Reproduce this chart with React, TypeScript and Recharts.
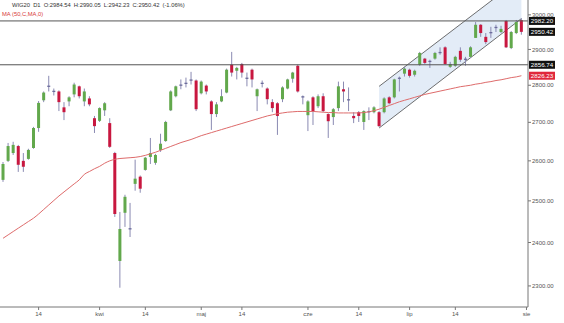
import React from "react";
import { ComposedChart, Bar, Line, Area, XAxis, YAxis, ReferenceLine } from "recharts";

// WIG20 daily candles, oldest first
const opens = [
  2552, 2600, 2620, 2638, 2600, 2605, 2633, 2685, 2759, 2799,
  2785, 2783, 2740, 2756, 2775, 2797, 2756, 2764, 2711, 2704,
  2732, 2698, 2620, 2357, 2471, 2432, 2542, 2560, 2577, 2610,
  2595, 2628, 2651, 2732, 2770, 2799, 2805, 2813, 2813, 2778,
  2799, 2756, 2722, 2756, 2780, 2857, 2840, 2859, 2821, 2843,
  2770, 2805, 2791, 2754, 2751, 2762, 2791, 2818, 2854, 2770,
  2719, 2767, 2743, 2770, 2722, 2714, 2738, 2789, 2762, 2717,
  2727, 2701, 2730, 2727, 2727, 2727, 2767, 2767, 2818, 2832,
  2843, 2829, 2857, 2874, 2868, 2874, 2890, 2906, 2851, 2854,
  2896, 2874, 2879, 2933, 2971, 2936, 2950, 2962, 2950, 2982,
  2904, 2947, 2984.54,
];
const highs = [
  2597, 2646, 2649, 2641, 2620, 2631, 2688, 2757, 2783, 2826,
  2791, 2786, 2754, 2770, 2807, 2799, 2791, 2770, 2717, 2740,
  2754, 2711, 2623, 2473, 2515, 2495, 2603, 2563, 2610, 2659,
  2618, 2670, 2704, 2786, 2799, 2816, 2821, 2837, 2816, 2813,
  2802, 2759, 2754, 2789, 2846, 2893, 2851, 2862, 2835, 2846,
  2791, 2813, 2794, 2762, 2754, 2797, 2818, 2837, 2857, 2772,
  2759, 2770, 2775, 2778, 2724, 2738, 2810, 2810, 2794, 2727,
  2730, 2732, 2740, 2743, 2730, 2767, 2770, 2818, 2824, 2851,
  2846, 2843, 2893, 2876, 2871, 2893, 2906, 2909, 2865, 2882,
  2906, 2879, 2909, 2979, 2973, 2947, 2965, 2971, 2968, 2985,
  2953, 2985, 2990.05,
];
const lows = [
  2547, 2597, 2615, 2572, 2572, 2603, 2631, 2675, 2754, 2783,
  2772, 2730, 2706, 2743, 2767, 2764, 2743, 2743, 2672, 2701,
  2717, 2633, 2461, 2296, 2437, 2413, 2525, 2520, 2575, 2592,
  2590, 2623, 2649, 2730, 2767, 2789, 2794, 2802, 2730, 2775,
  2775, 2680, 2714, 2754, 2778, 2824, 2816, 2821, 2797, 2794,
  2730, 2794, 2748, 2727, 2667, 2754, 2789, 2807, 2780, 2748,
  2677, 2693, 2738, 2727, 2659, 2693, 2730, 2754, 2730, 2698,
  2701, 2680, 2706, 2724, 2688, 2724, 2748, 2764, 2783, 2824,
  2821, 2824, 2854, 2859, 2848, 2871, 2885, 2857, 2848, 2851,
  2865, 2854, 2876, 2933, 2936, 2915, 2933, 2950, 2947, 2904,
  2901, 2944, 2942.23,
];
const closes = [
  2592, 2638, 2641, 2590, 2585, 2628, 2685, 2752, 2780, 2796,
  2783, 2754, 2727, 2767, 2802, 2770, 2783, 2748, 2690, 2738,
  2751, 2636, 2468, 2432, 2510, 2434, 2555, 2530, 2608, 2620,
  2615, 2644, 2701, 2783, 2797, 2802, 2807, 2816, 2735, 2810,
  2783, 2722, 2748, 2770, 2843, 2835, 2848, 2835, 2818, 2816,
  2789, 2807, 2762, 2738, 2717, 2794, 2816, 2835, 2783, 2767,
  2756, 2730, 2770, 2730, 2703, 2735, 2797, 2783, 2759, 2711,
  2717, 2730, 2727, 2740, 2690, 2764, 2751, 2816, 2821, 2846,
  2826, 2840, 2890, 2862, 2865, 2890, 2893, 2859, 2859, 2879,
  2871, 2871, 2906, 2971, 2947, 2921, 2947, 2965, 2959, 2906,
  2950, 2979, 2950.42,
];
// MA(50) on close
const ma50 = [
  2410, 2418, 2426, 2434, 2442, 2450, 2458, 2468, 2479, 2490,
  2501, 2512, 2522, 2532, 2542, 2552, 2566, 2573, 2580, 2586,
  2594, 2600, 2604, 2606, 2607, 2608, 2609, 2611, 2614, 2618,
  2622, 2627, 2632, 2637, 2642, 2647, 2651, 2655, 2660, 2665,
  2669, 2673, 2677, 2681, 2685, 2689, 2693, 2697, 2701, 2705,
  2709, 2713, 2717, 2720, 2723, 2725, 2727, 2728, 2729, 2729,
  2729, 2729, 2728, 2727, 2726, 2726, 2725, 2725, 2725, 2725,
  2725, 2726, 2728, 2731, 2735, 2740, 2745, 2750, 2755, 2759,
  2763, 2767, 2771, 2775, 2778, 2781, 2784, 2787, 2790, 2793,
  2796, 2798, 2800, 2803, 2805, 2808, 2810, 2813, 2815, 2818,
  2821, 2823, 2826.23,
];

// rising channel, corners (candle index, lower edge, upper edge)
const channelAt = [74, 102];
const channelLow = [2685, 2989];
const channelHigh = [2797, 3111];

const levels = [2982.2, 2856.74];
const lastClose = 2950.42;
const lastMa = 2826.23;

const xTicks = [7, 19, 28, 39, 47, 60, 70, 80, 89, 103];
const xTickLabels = ["14", "kwi", "14", "maj", "14", "cze", "14", "lip", "14", "sie"];
const yTicks = [2300, 2400, 2500, 2600, 2700, 2800, 2900, 3000];

const data = opens.map((open, i) => {
  const c = channelAt.indexOf(i);
  return {
    i,
    open,
    high: highs[i],
    low: lows[i],
    close: closes[i],
    range: [lows[i], highs[i]],
    ma: ma50[i],
    ch: c >= 0 ? [channelLow[c], channelHigh[c]] : null,
  };
});

const FONT = "'Liberation Sans', Arial, sans-serif";

function Candle(props: any) {
  const { x, y, width, height, payload } = props;
  if (x == null || y == null || !payload) return null;
  const { open, high, low, close } = payload;
  const cx = x + width / 2;
  const span = Math.log(high) - Math.log(low);
  const toY = (v: number) => y + (span > 0 ? (height * (Math.log(high) - Math.log(v))) / span : 0);
  const top = toY(Math.max(open, close));
  const bot = toY(Math.min(open, close));
  const flat = Math.abs(close - open) < 4;
  const color = flat ? "#6c6c9c" : close >= open ? "#62a84c" : "#c8173f";
  return (
    <g>
      <line x1={cx} x2={cx} y1={y} y2={y + height} stroke="#8a8ab2" strokeWidth={1} />
      <rect x={cx - 1.5} y={top} width={3} height={Math.max(bot - top, 1.3)} fill={color} />
    </g>
  );
}

function PriceTag(props: any) {
  const vb = props.viewBox;
  if (!vb) return null;
  const x = vb.x + vb.width + 1;
  return (
    <g>
      <rect x={x} y={vb.y - 4} width={26} height={8} fill={props.bg} />
      <text x={x + 13} y={vb.y + 2.2} textAnchor="middle" fontSize={6.2} fill="#fff" fontFamily={FONT}>
        {props.text}
      </text>
    </g>
  );
}

const tag = (text: string, bg: string) => ({
  content: (p: any) => <PriceTag viewBox={p.viewBox} text={text} bg={bg} />,
});

export default function App() {
  return (
    <div style={{ position: "absolute", left: 0, top: 0, width: 564, height: 323, background: "#fff" }}>
      <ComposedChart width={564} height={323} data={data} margin={{ top: 0, right: 0, bottom: 0, left: 0 }}>
        <XAxis
          dataKey="i"
          type="number"
          domain={[-0.6, 103.3]}
          allowDataOverflow
          ticks={xTicks}
          interval={0}
          tickFormatter={(v: number) => xTickLabels[xTicks.indexOf(v)] ?? ""}
          height={16}
          tickSize={3}
          tickMargin={2}
          stroke="#777"
          tick={{ fontSize: 6, fill: "#555", fontFamily: FONT }}
        />
        <YAxis
          orientation="right"
          type="number"
          scale="log"
          domain={[2253, 3044]}
          allowDataOverflow
          ticks={yTicks}
          interval={0}
          width={36}
          tickSize={3}
          tickMargin={1}
          stroke="#777"
          tickFormatter={(v: number) => v.toFixed(2)}
          tick={{ fontSize: 6, fill: "#555", fontFamily: FONT }}
        />
        <Area
          dataKey="ch"
          type="linear"
          connectNulls
          fill="#e3ecf7"
          fillOpacity={1}
          stroke="#4a4a4a"
          strokeWidth={0.8}
          dot={false}
          activeDot={false}
          isAnimationActive={false}
        />
        {levels.map((v) => (
          <ReferenceLine key={v} y={v} stroke="#555" strokeWidth={1} label={tag(v.toFixed(2), "#111")} />
        ))}
        <ReferenceLine y={lastClose} strokeOpacity={0} label={tag(lastClose.toFixed(2), "#111")} />
        <ReferenceLine y={lastMa} strokeOpacity={0} label={tag(lastMa.toFixed(2), "#e0283c")} />
        <Line
          dataKey="ma"
          type="monotone"
          stroke="#de6b6b"
          strokeWidth={1}
          dot={false}
          activeDot={false}
          isAnimationActive={false}
        />
        <Bar dataKey="range" barSize={5} shape={<Candle />} isAnimationActive={false} />
      </ComposedChart>
      <div
        style={{
          position: "absolute",
          left: 12,
          top: 1,
          fontSize: 5.8,
          lineHeight: "8px",
          wordSpacing: 1.5,
          color: "#333",
          fontFamily: FONT,
          whiteSpace: "nowrap",
        }}
      >
        WIG20 D1 O:2984.54 H:2990.05 L:2942.23 C:2950.42 (-1.06%)
      </div>
      <div
        style={{
          position: "absolute",
          left: 2,
          top: 10,
          fontSize: 5.8,
          lineHeight: "8px",
          color: "#d83a3a",
          fontFamily: FONT,
          whiteSpace: "nowrap",
        }}
      >
        MA (50,C,MA,0)
      </div>
    </div>
  );
}
